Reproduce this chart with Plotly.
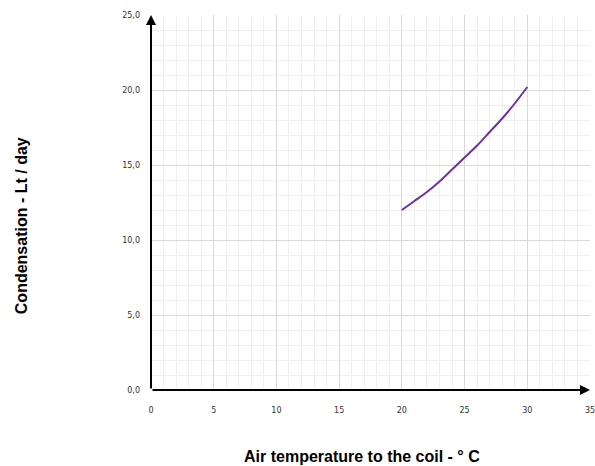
import plotly.graph_objects as go

# Data
temperature = [20, 21, 22, 23, 24, 25, 26, 27, 28, 29, 30]
condensation = [12.0, 12.6, 13.2, 13.9, 14.7, 15.5, 16.3, 17.2, 18.1, 19.1, 20.2]

x_ticks = [0, 5, 10, 15, 20, 25, 30, 35]
y_ticks = [0, 5, 10, 15, 20, 25]
x_title = "Air temperature to the coil - ° C"
y_title = "Condensation - Lt / day"

fig = go.Figure()
fig.add_trace(go.Scatter(
    x=temperature, y=condensation, mode="lines",
    line=dict(color="#7030A0", width=2, shape="spline", smoothing=0.8),
    showlegend=False, hoverinfo="x+y",
))

tick_font = dict(family="DejaVu Sans, Verdana, sans-serif", size=8, color="#333333")

fig.update_xaxes(
    range=[0, 35], tickvals=x_ticks, tickfont=tick_font,
    showgrid=True, gridcolor="#D9D9D9", gridwidth=1,
    minor=dict(dtick=1, showgrid=True, gridcolor="#F0F0F0", gridwidth=1),
    zeroline=False, showline=False, ticks="", ticklabelstandoff=14,
    automargin=False, ticklabeloverflow="allow",
)
fig.update_yaxes(
    range=[0, 25], tickvals=y_ticks, tickformat=".1f", tickfont=tick_font,
    showgrid=True, gridcolor="#D9D9D9", gridwidth=1,
    minor=dict(dtick=1, showgrid=True, gridcolor="#F0F0F0", gridwidth=1),
    zeroline=False, showline=False, ticks="", ticklabelstandoff=10,
    automargin=False, ticklabeloverflow="allow",
)

# axis lines with arrowheads
fig.add_annotation(x=35, y=0, ax=0, ay=0, xref="x", yref="y", axref="x", ayref="y",
                   showarrow=True, arrowhead=2, arrowsize=1, arrowwidth=2,
                   arrowcolor="black", text="")
fig.add_annotation(x=0, y=25, ax=0, ay=0, xref="x", yref="y", axref="x", ayref="y",
                   showarrow=True, arrowhead=2, arrowsize=1, arrowwidth=2,
                   arrowcolor="black", text="")

title_font = dict(family="Liberation Sans, Arial, sans-serif", size=16, color="black")
fig.add_annotation(text="<b>" + x_title + "</b>", xref="paper", yref="paper",
                   x=0.4795, y=-0.176, yanchor="middle", showarrow=False, font=title_font)
fig.add_annotation(text="<b>" + y_title + "</b>", xref="paper", yref="paper",
                   x=-0.296, xanchor="center", y=0.437, showarrow=False,
                   textangle=-90, font=title_font)

fig.update_layout(
    width=595, height=466,
    margin=dict(l=151, r=5, t=15, b=76, autoexpand=False),
    paper_bgcolor="white", plot_bgcolor="white",
    separators=",.",
)

fig.write_html("out.html", config={"displayModeBar": False},
               post_script="document.body.style.margin='0';document.body.style.overflow='hidden';")
